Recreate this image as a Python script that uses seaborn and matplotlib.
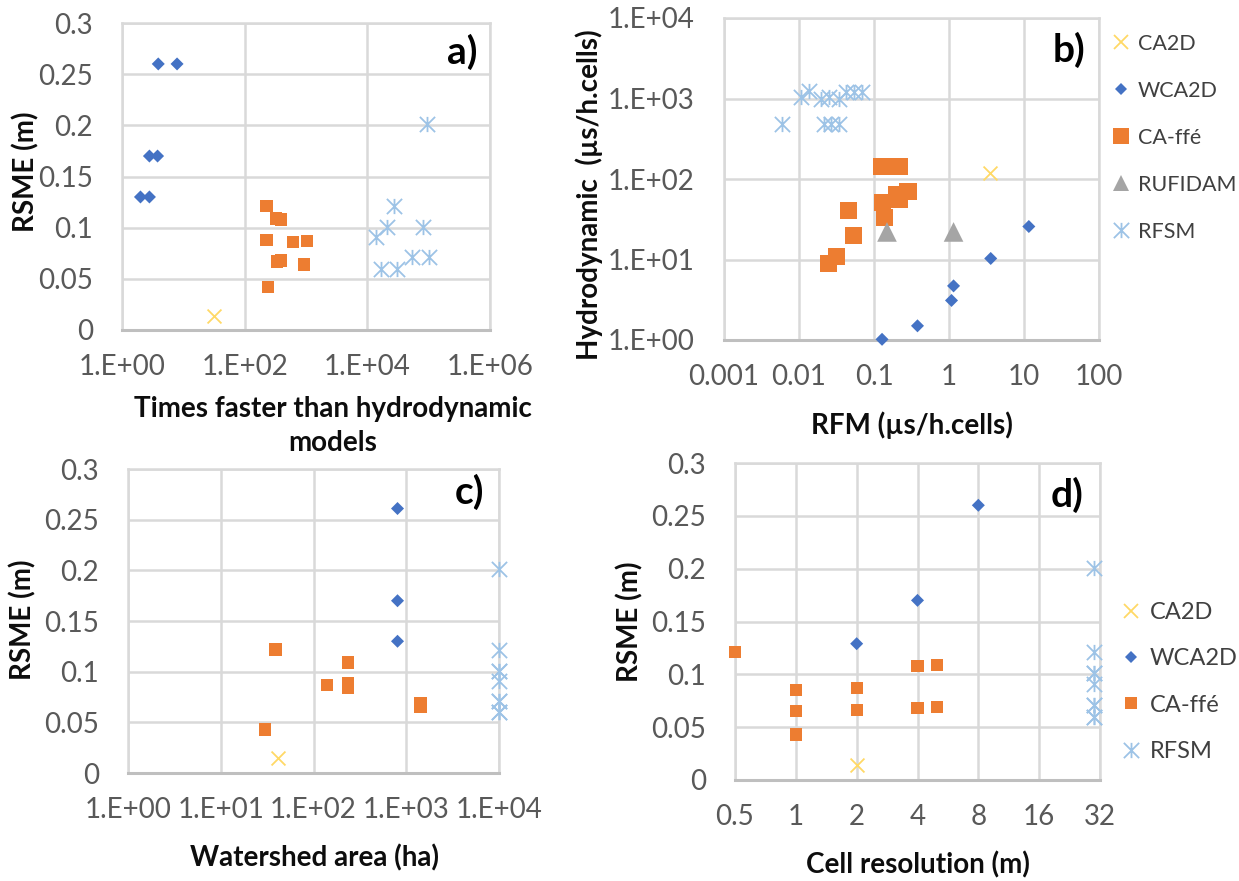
import numpy as np
import pandas as pd
import matplotlib
matplotlib.use("Agg")
import matplotlib.pyplot as plt
from matplotlib.path import Path
from matplotlib.lines import Line2D
from matplotlib.ticker import NullLocator
import seaborn as sns

# ---------------- data ----------------
# panel a: speed-up vs RMSE
a_ca2d_x = [32]
a_ca2d_y = [0.014]
a_wca2d_x = [3.9, 7.9, 2.8, 3.8, 2.0, 2.8]
a_wca2d_y = [0.26, 0.26, 0.17, 0.17, 0.13, 0.13]
a_caffe_x = [228, 326, 390, 228, 607, 1050, 340, 390, 930, 240]
a_caffe_y = [0.121, 0.109, 0.108, 0.088, 0.086, 0.087, 0.067, 0.068, 0.064, 0.042]
a_rfsm_x = [93000, 27000, 21000, 80000, 14000, 53000, 100000, 17000, 30500]
a_rfsm_y = [0.201, 0.121, 0.101, 0.101, 0.091, 0.071, 0.071, 0.060, 0.060]

# panel b: RFM time vs hydrodynamic time
b_ca2d_x = [3.5]
b_ca2d_y = [118]
b_wca2d_x = [11.6, 3.6, 1.15, 1.08, 0.38, 0.128]
b_wca2d_y = [25.7, 10.3, 4.7, 3.1, 1.5, 1.02]
b_caffe_x = [0.125, 0.165, 0.217, 0.129, 0.198, 0.284, 0.22, 0.139, 0.046, 0.0536, 0.032, 0.0244]
b_caffe_y = [143, 143, 143, 51, 63.5, 69, 56, 33.7, 41, 20, 11, 8.8]
b_rufidam_x = [0.149, 1.15]
b_rufidam_y = [22, 22]
b_rfsm_x = [0.0105, 0.0135, 0.0195, 0.025, 0.034, 0.042, 0.054, 0.07,
            0.006, 0.0214, 0.0264, 0.0338]
b_rfsm_y = [1050, 1250, 1000, 1050, 1000, 1200, 1200, 1200,
            480, 480, 480, 480]

# panel c: watershed area vs RMSE
c_ca2d_x = [41]
c_ca2d_y = [0.015]
c_wca2d_x = [805, 805, 805]
c_wca2d_y = [0.261, 0.170, 0.130]
c_caffe_x = [39, 235, 141, 235, 235, 1425, 1425, 30]
c_caffe_y = [0.122, 0.109, 0.0865, 0.089, 0.084, 0.069, 0.065, 0.043]
c_rfsm_x = [10000] * 9
c_rfsm_y = [0.201, 0.121, 0.101, 0.101, 0.091, 0.071, 0.071, 0.060, 0.060]

# panel d: cell resolution vs RMSE
d_ca2d_x = [2]
d_ca2d_y = [0.014]
d_wca2d_x = [8, 4, 2]
d_wca2d_y = [0.26, 0.17, 0.129]
d_caffe_x = [0.5, 1, 1, 1, 2, 2, 4, 4, 5, 5]
d_caffe_y = [0.121, 0.085, 0.065, 0.043, 0.087, 0.066, 0.108, 0.068, 0.109, 0.069]
d_rfsm_x = [30] * 9
d_rfsm_y = [0.201, 0.121, 0.101, 0.101, 0.091, 0.071, 0.071, 0.060, 0.060]

rmse_ticks = [0, 0.05, 0.1, 0.15, 0.2, 0.25, 0.3]
rmse_labels = ["0", "0.05", "0.1", "0.15", "0.2", "0.25", "0.3"]
a_xticks = [1, 1e2, 1e4, 1e6]
a_xlabels = ["1.E+00", "1.E+02", "1.E+04", "1.E+06"]
b_xticks = [0.001, 0.01, 0.1, 1, 10, 100]
b_xlabels = ["0.001", "0.01", "0.1", "1", "10", "100"]
b_yticks = [1, 10, 100, 1000, 10000]
b_ylabels = ["1.E+00", "1.E+01", "1.E+02", "1.E+03", "1.E+04"]
c_xticks = [1, 10, 100, 1000, 10000]
c_xlabels = ["1.E+00", "1.E+01", "1.E+02", "1.E+03", "1.E+04"]
d_xticks = [0.5, 1, 2, 4, 8, 16, 32]
d_xlabels = ["0.5", "1", "2", "4", "8", "16", "32"]

# ---------------- style ----------------
sns.set_style("white")
plt.rcParams["font.family"] = ["Lato", "DejaVu Sans"]

C_CA2D = "#FFD966"
C_WCA2D = "#4472C4"
C_CAFFE = "#ED7D31"
C_RUF = "#A5A5A5"
C_RFSM = "#9DC3E6"
GRID = "#d9d9d9"
TICKC = "#595959"

star = Path([(0, -1), (0, 1), (-1, -1), (1, 1), (-1, 1), (1, -1)],
            [Path.MOVETO, Path.LINETO] * 3)

W, H = 1239, 881
fig = plt.figure(figsize=(W / 100, H / 100), dpi=100)

boxes = {
    "a": (122, 490, 23, 330),
    "b": (724, 1099, 18, 340),
    "c": (128, 499, 469, 773),
    "d": (735, 1100, 463, 780),
}


def add_ax(key):
    l, r, t, b = boxes[key]
    return fig.add_axes([l / W, 1 - b / H, (r - l) / W, (b - t) / H])


def px2ax(key, x, y):
    l, r, t, b = boxes[key]
    return (x - l) / (r - l), (b - y) / (b - t)


def style_ax(ax):
    ax.grid(True, color=GRID, lw=1.8)
    ax.set_axisbelow(True)
    for s in ax.spines.values():
        s.set_color(GRID)
        s.set_linewidth(1.8)
    ax.spines["bottom"].set_color("#bfbfbf")
    ax.spines["bottom"].set_linewidth(2.2)
    ax.tick_params(length=0, labelsize=20, labelcolor=TICKC)
    ax.tick_params(axis="y", pad=21)
    ax.tick_params(axis="x", pad=17)
    ax.xaxis.set_minor_locator(NullLocator())
    ax.yaxis.set_minor_locator(NullLocator())


def scat(ax, x, y, kind, big=False):
    if kind == "ca2d":
        sns.scatterplot(x=x, y=y, ax=ax, marker="x", s=100, color=C_CA2D,
                        edgecolor=C_CA2D, linewidth=1.3, clip_on=False, zorder=3)
    elif kind == "wca2d":
        sns.scatterplot(x=x, y=y, ax=ax, marker="D", s=44, color=C_WCA2D,
                        edgecolor="none", linewidth=0, clip_on=False, zorder=3)
    elif kind == "caffe":
        sns.scatterplot(x=x, y=y, ax=ax, marker="s", s=150 if big else 78,
                        color=C_CAFFE, edgecolor="none", linewidth=0,
                        clip_on=False, zorder=3)
    elif kind == "ruf":
        sns.scatterplot(x=x, y=y, ax=ax, marker="^", s=200, color=C_RUF,
                        edgecolor="none", linewidth=0, clip_on=False, zorder=3)
    elif kind == "rfsm":
        sns.scatterplot(x=x, y=y, ax=ax, marker=star, s=120, color=C_RFSM,
                        edgecolor=C_RFSM, linewidth=1.3, clip_on=False, zorder=3)


def set_labels(ax, key, xlabel, xpos, ylabel, ypos):
    ax.set_xlabel(xlabel, fontsize=20, fontweight="bold", color="#0d0d0d",
                  linespacing=1.35)
    ax.xaxis.set_label_coords(*px2ax(key, *xpos))
    ax.xaxis.label.set_va("center")
    ax.set_ylabel(ylabel, fontsize=20, fontweight="bold", color="#0d0d0d")
    ax.yaxis.set_label_coords(*px2ax(key, *ypos))
    ax.yaxis.label.set_va("center")


def panel_tag(ax, key, text, x, y):
    ax.text(*px2ax(key, x, y), text, transform=ax.transAxes, ha="right",
            va="center", fontsize=28, fontweight="bold", color="black")


# ---------------- panel a ----------------
axa = add_ax("a")
axa.set_xscale("log")
scat(axa, a_ca2d_x, a_ca2d_y, "ca2d")
scat(axa, a_wca2d_x, a_wca2d_y, "wca2d")
scat(axa, a_caffe_x, a_caffe_y, "caffe")
scat(axa, a_rfsm_x, a_rfsm_y, "rfsm")
axa.set_xlim(1, 1e6)
axa.set_ylim(0, 0.3)
axa.set_xticks(a_xticks, a_xlabels)
axa.set_yticks(rmse_ticks, rmse_labels)
style_ax(axa)
set_labels(axa, "a", "Times faster than hydrodynamic\nmodels", (333, 426),
           "RSME (m)", (26, 172))
panel_tag(axa, "a", "a)", 478, 52)

# ---------------- panel b ----------------
axb = add_ax("b")
axb.set_xscale("log")
axb.set_yscale("log")
scat(axb, b_ca2d_x, b_ca2d_y, "ca2d")
scat(axb, b_wca2d_x, b_wca2d_y, "wca2d")
scat(axb, b_caffe_x, b_caffe_y, "caffe", big=True)
scat(axb, b_rufidam_x, b_rufidam_y, "ruf")
scat(axb, b_rfsm_x, b_rfsm_y, "rfsm")
axb.set_xlim(0.001, 100)
axb.set_ylim(1, 1e4)
axb.set_xticks(b_xticks, b_xlabels)
axb.set_yticks(b_yticks, b_ylabels)
style_ax(axb)
set_labels(axb, "b", "RFM (µs/h.cells)", (912, 425),
           "Hydrodynamic  (µs/h.cells)", (589, 195))
panel_tag(axb, "b", "b)", 1085, 50)


def handles(with_ruf, big_sq):
    h = [
        Line2D([], [], ls="none", marker="x", ms=10, mew=1.3, color=C_CA2D, label="CA2D"),
        Line2D([], [], ls="none", marker="D", ms=6.5, mew=0, color=C_WCA2D, label="WCA2D"),
        Line2D([], [], ls="none", marker="s", ms=11 if big_sq else 9, mew=0, color=C_CAFFE, label="CA-ffé"),
    ]
    if with_ruf:
        h.append(Line2D([], [], ls="none", marker="^", ms=12, mew=0, color=C_RUF, label="RUFIDAM"))
    h.append(Line2D([], [], ls="none", marker=star, ms=11, mew=1.3, color=C_RFSM, label="RFSM"))
    return h


legb = fig.legend(handles=handles(True, True), loc="upper left",
                  bbox_to_anchor=(1110 / W, 1 - 34 / H), frameon=False,
                  fontsize=15.5, handlelength=1.0, handletextpad=0.3,
                  labelspacing=1.25, borderpad=0, borderaxespad=0)
for t in legb.get_texts():
    t.set_color("#404040")

# ---------------- panel c ----------------
axc = add_ax("c")
axc.set_xscale("log")
scat(axc, c_ca2d_x, c_ca2d_y, "ca2d")
scat(axc, c_wca2d_x, c_wca2d_y, "wca2d")
scat(axc, c_caffe_x, c_caffe_y, "caffe")
scat(axc, c_rfsm_x, c_rfsm_y, "rfsm")
axc.set_xlim(1, 1e4)
axc.set_ylim(0, 0.3)
axc.set_xticks(c_xticks, c_xlabels)
axc.set_yticks(rmse_ticks, rmse_labels)
style_ax(axc)
set_labels(axc, "c", "Watershed area (ha)", (314, 858), "RSME (m)", (23, 620))
panel_tag(axc, "c", "c)", 484, 492)

# ---------------- panel d ----------------
axd = add_ax("d")
axd.set_xscale("log", base=2)
scat(axd, d_ca2d_x, d_ca2d_y, "ca2d")
scat(axd, d_wca2d_x, d_wca2d_y, "wca2d")
scat(axd, d_caffe_x, d_caffe_y, "caffe")
scat(axd, d_rfsm_x, d_rfsm_y, "rfsm")
axd.set_xlim(0.5, 32)
axd.set_ylim(0, 0.3)
axd.set_xticks(d_xticks, d_xlabels)
axd.set_yticks(rmse_ticks, rmse_labels)
style_ax(axd)
set_labels(axd, "d", "Cell resolution (m)", (918, 865), "RSME (m)", (630, 622))
panel_tag(axd, "d", "d)", 1084, 495)

legd = fig.legend(handles=handles(False, False), loc="upper left",
                  bbox_to_anchor=(1119 / W, 1 - 602 / H), frameon=False,
                  fontsize=17, handlelength=1.0, handletextpad=0.3,
                  labelspacing=1.07, borderpad=0, borderaxespad=0)
for t in legd.get_texts():
    t.set_color("#404040")

for ax in (axa, axb, axc, axd):
    if ax.get_legend() is not None:
        ax.get_legend().remove()

fig.savefig("out.png", dpi=100)
